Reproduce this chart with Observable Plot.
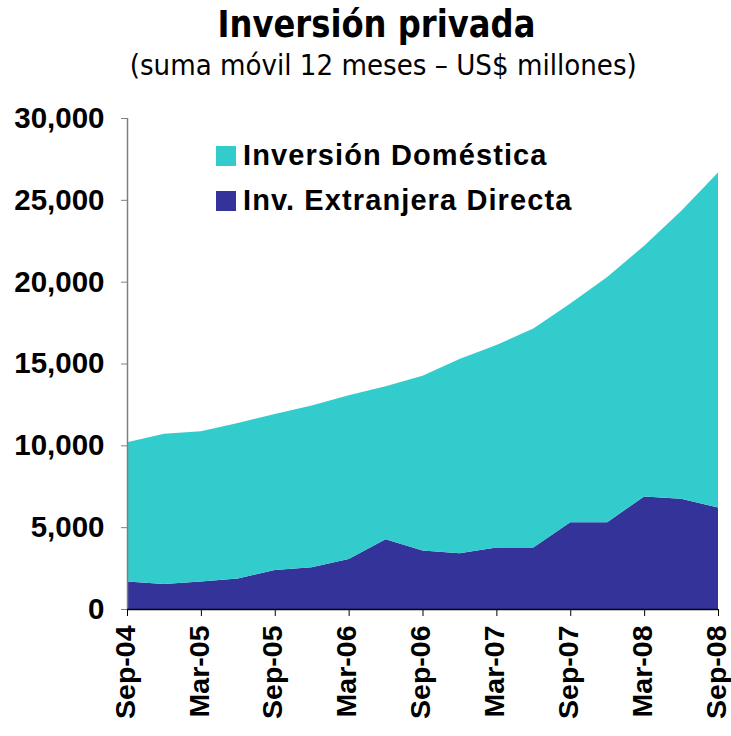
<!DOCTYPE html>
<html>
<head>
<meta charset="utf-8">
<script src="https://cdn.jsdelivr.net/npm/d3@7"></script>
<script src="https://cdn.jsdelivr.net/npm/@observablehq/plot@0.6"></script>
<style>
  html, body { margin: 0; padding: 0; background: #fff; }
  #wrap { position: relative; width: 731px; height: 736px; overflow: hidden; }
  #wrap svg { position: absolute; left: 0; top: 0; }
  .title { position: absolute; left: 0; top: 3px; width: 752px; text-align: center;
           font-family: "DejaVu Sans", Verdana, sans-serif; font-weight: bold; font-size: 37px; white-space: nowrap; }
  .subtitle { position: absolute; left: 0; top: 49px; width: 766px; text-align: center;
           font-family: "DejaVu Sans", Verdana, sans-serif; font-size: 28px; white-space: nowrap; }
  .fit { display: inline-block; transform-origin: center; }
  .legend { position: absolute; left: 216px; top: 133px; font-family: "Liberation Sans", Arial, sans-serif;
            font-weight: bold; font-size: 29px; letter-spacing: 1.1px; }
  .legend div { height: 45px; display: flex; align-items: center; }
  .legend span.sw { display: inline-block; width: 20px; height: 20px; margin-right: 7px; }
</style>
</head>
<body>
<div id="wrap">
  <div class="title"><span class="fit" id="t1">Inversión privada</span></div>
  <div class="subtitle"><span class="fit" id="t2">(suma móvil 12 meses – US$ millones)</span></div>
</div>
<script>
// Quarterly data, 12-month moving sum, US$ millions
const quarters = ["Sep-04","Dec-04","Mar-05","Jun-05","Sep-05","Dec-05","Mar-06","Jun-06","Sep-06",
                  "Dec-06","Mar-07","Jun-07","Sep-07","Dec-07","Mar-08","Jun-08","Sep-08"];
const fdi      = [1674, 1531, 1674, 1857, 2388, 2551, 3061, 4265, 3571,
                  3408, 3755, 3755, 5306, 5306, 6878, 6735, 6204];
const domestic = [8510, 9184, 9183, 9511, 9531, 9878, 10004, 9344, 10683,
                  11874, 12374, 13382, 13363, 14976, 15320, 17580, 20469];
const seriesNames = ["Inv. Extranjera Directa", "Inversión Doméstica"];
const seriesColors = ["#333399", "#33CCCC"];
const yTicks = [0, 5000, 10000, 15000, 20000, 25000, 30000];
const xTickIdx = [0, 2, 4, 6, 8, 10, 12, 14, 16];

const data = [];
quarters.forEach((q, i) => {
  data.push({i, serie: seriesNames[0], value: fdi[i]});
  data.push({i, serie: seriesNames[1], value: domestic[i]});
});

const fmt = d3.format(",");
const chart = Plot.plot({
  width: 731,
  height: 736,
  marginTop: 118,
  marginBottom: 127,
  marginLeft: 127,
  marginRight: 13,
  style: {fontFamily: "'Liberation Sans', Arial, sans-serif", fontWeight: "bold", fontSize: "29.5px", color: "#000", background: "transparent"},
  x: {type: "linear", domain: [0, quarters.length - 1]},
  y: {domain: [0, 30000]},
  color: {domain: seriesNames, range: seriesColors},
  marks: [
    Plot.areaY(data, {x: "i", y: "value", z: "serie", fill: "serie", order: seriesNames}),
    Plot.axisY({ticks: yTicks, tickFormat: fmt, tickSize: 6, tickPadding: 17, stroke: "#808080", label: null, fill: "#000"}),
    Plot.axisX({ticks: xTickIdx, tickSize: 7, stroke: "#000", label: null, tickFormat: () => ""}),
    Plot.axisX({ticks: xTickIdx, tickFormat: i => quarters[i], tickSize: 0, tickPadding: 16, tickRotate: -90, label: null, fill: "#000", fontSize: 28.5, dx: -2}),
    Plot.ruleX([0], {stroke: "#808080", strokeWidth: 1.5}),
    Plot.ruleY([0], {stroke: "#000", strokeWidth: 1.5})
  ]
});
const wrap = document.getElementById("wrap");
wrap.insertBefore(chart, wrap.firstChild);

// legend
const leg = document.createElement("div");
leg.className = "legend";
[1, 0].forEach(k => {
  const row = document.createElement("div");
  const sw = document.createElement("span");
  sw.className = "sw";
  sw.style.background = seriesColors[k];
  row.appendChild(sw);
  row.appendChild(document.createTextNode(seriesNames[k]));
  leg.appendChild(row);
});
wrap.appendChild(leg);

// fit title widths
function fit(id, target) {
  const el = document.getElementById(id);
  const w = el.getBoundingClientRect().width;
  el.style.transform = `scaleX(${target / w})`;
}
fit("t1", 318);
fit("t2", 507);
</script>
</body>
</html>
